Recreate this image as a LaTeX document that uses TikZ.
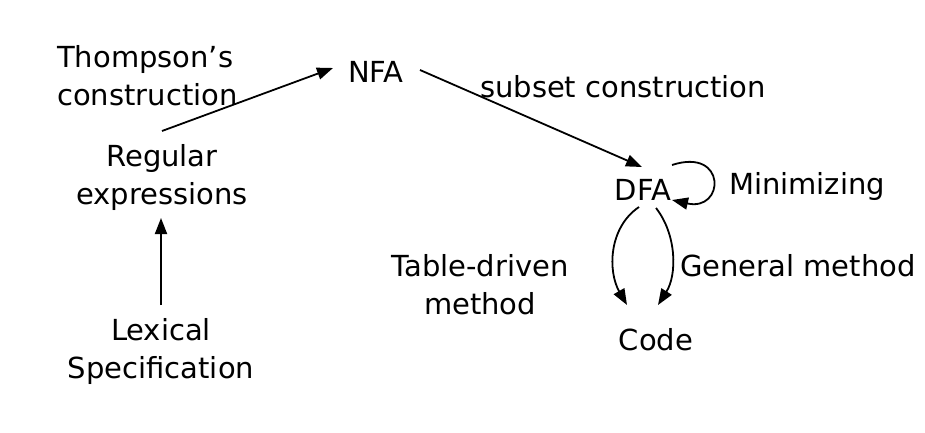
\documentclass[tikz,border=0pt]{standalone}
\usepackage{fontspec}
\setmainfont{DejaVu Sans}
\usetikzlibrary{arrows.meta,calc}
\begin{document}
\begin{tikzpicture}[x=1pt,y=-1pt,
  lbl/.style={inner sep=0pt,font=\fontsize{29}{38}\selectfont,align=center},
  arr/.style={line width=1.8pt,-{Triangle[length=16pt,width=12pt]}}]
\useasboundingbox (0,0) rectangle (925,433);
\node[lbl,anchor=west,align=left] (thom) at (57,76) {Thompson’s\\construction};
\node[lbl] (nfa) at (376,72) {NFA};
\node[lbl] (subset) at (623,87) {subset construction};
\node[lbl] (reg) at (162,177) {Regular\\expressions};
\node[lbl] (lex) at (161,351) {Lexical\\Specification};
\node[lbl] (dfa) at (643,190) {DFA};
\node[lbl] (mini) at (807,186) {Minimizing};
\node[lbl] (table) at (480,285) {Table-driven\\method};
\node[lbl] (gen) at (798,266) {General method};
\node[lbl] (code) at (656,340) {Code};
\draw[arr] ($(lex)+(0,-46)$) -- ($(reg)+(-1,41)$);
\draw[arr] ($(reg)+(0,-46)$) -- ($(nfa)+(-43,-4)$);
\draw[arr] ($(nfa)+(44,-2)$) -- ($(dfa)+(-1,-23)$);
\draw[arr] ($(dfa)+(29,-25)$) .. controls +(55,-18) and +(53,12) .. ($(dfa)+(29,10)$);
\draw[arr] ($(dfa)+(-4,17)$) .. controls +(-31,21) and +(-19,-33) .. ($(code)+(-29,-35)$);
\draw[arr] ($(dfa)+(13,18)$) .. controls +(21,27) and +(19,-30) .. ($(code)+(2,-35)$);
\end{tikzpicture}
\end{document}
